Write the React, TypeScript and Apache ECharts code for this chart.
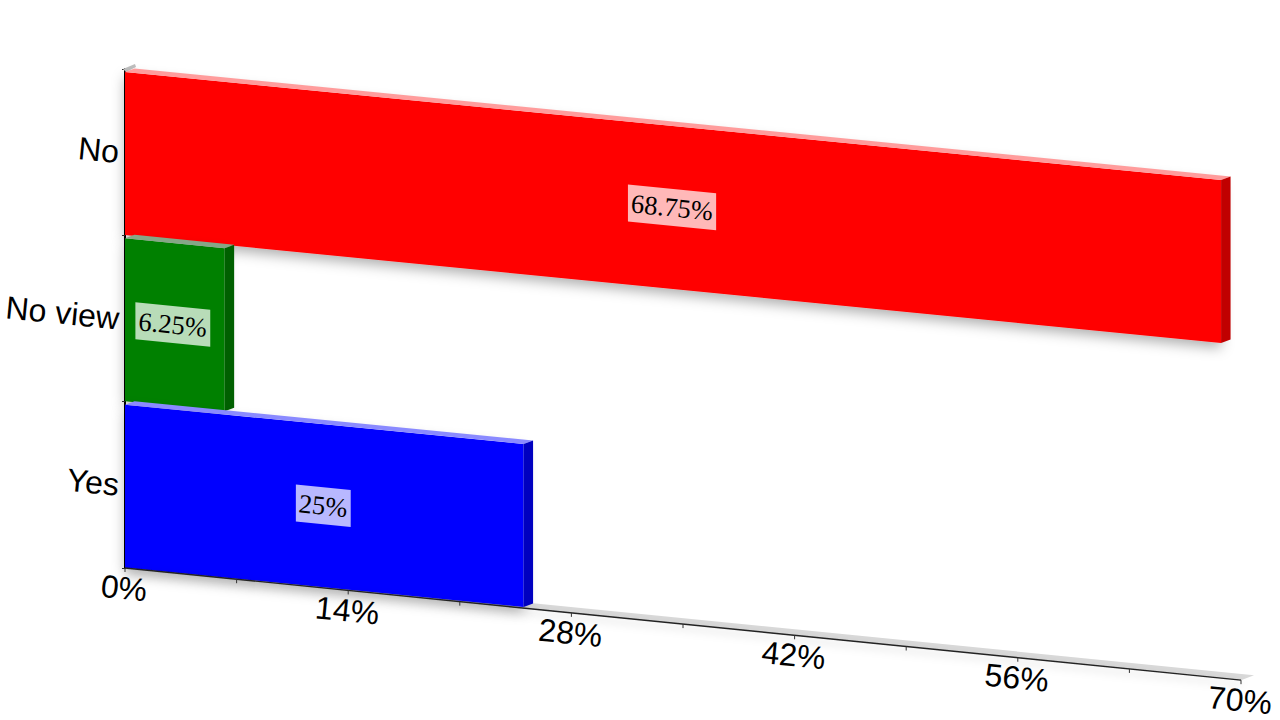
import React, { useEffect, useRef } from "react";
import * as echarts from "echarts";

const categories = ["No", "No view", "Yes"];
const shares = [68.75, 6.25, 25];
const shareLabels = ["68.75%", "6.25%", "25%"];
const barColors = ["#ff0000", "#008000", "#0000ff"];
const topColors = ["#ff9c9c", "#86a686", "#8a8aff"];
const sideColors = ["#c00000", "#006000", "#0000c0"];
const majorTicks = [0, 14, 28, 42, 56, 70];
const minorTicks = [7, 21, 35, 49, 63];
const tickLabels = ["0%", "14%", "28%", "42%", "56%", "70%"];

const BAR_SLOPE = 0.0985;
const AXIS_SLOPE = 0.1005;
const DEPTH_X = 9.5;
const DEPTH_Y = -3.5;

function textWidth(text: string, font: string) {
  const ctx = document.createElement("canvas").getContext("2d")!;
  ctx.font = font;
  return ctx.measureText(text).width;
}

export default function App() {
  const ref = useRef<HTMLDivElement>(null);
  useEffect(() => {
    const chart = echarts.init(ref.current!, undefined, { renderer: "svg" });
    const serif = '26.67px "Liberation Serif"';

    const backdrop = (_: any, api: any) => {
      const o = api.coord([0, 2]);
      const band = api.size([0, 1])[1];
      const left = o[0];
      const bottom = o[1] + band / 2;
      const top = bottom - band * 3;
      const end = api.coord([api.value(0), 0])[0];
      const endY = bottom + (end - left) * AXIS_SLOPE;
      return {
        type: "group",
        children: [
          {
            type: "line",
            shape: { x1: left - 1, y1: top, x2: left - 1, y2: bottom },
            style: { stroke: "#888888", lineWidth: 1, shadowBlur: 7, shadowColor: "rgba(0,0,0,0.4)", shadowOffsetX: -1 },
          },
          {
            type: "polygon",
            shape: { points: [[left, bottom], [end, endY], [end + 13, endY - 5], [left + 10, bottom - 4.5]] },
            style: { fill: "#d9d9d9" },
          },
          {
            type: "polygon",
            shape: { points: [[left - 2, top], [left + 10, top - 5], [left + 11, top - 2], [left + 1, top + 3]] },
            style: { fill: "#bdbdbd" },
          },
        ],
      };
    };

    const renderBar = (params: any, api: any) => {
      const i = params.dataIndex;
      const zero = api.coord([0, i]);
      const tip = api.coord([api.value(0), i]);
      const band = api.size([0, 1])[1];
      const x0 = zero[0];
      const x1 = tip[0];
      const top = zero[1] - band / 2 + 3;
      const h = band - 3.3;
      const skew = (x1 - x0) * BAR_SLOPE;
      const tl = [x0, top];
      const tr = [x1, top + skew];
      const br = [x1, top + skew + h];
      const bl = [x0, top + h];
      const back = (p: number[]) => [p[0] + DEPTH_X, p[1] + DEPTH_Y];
      const cx = (x0 + x1) / 2 - (i === 1 ? 2 : 1);
      const cy = top + h / 2 + (cx - x0) * BAR_SLOPE;
      const text = shareLabels[i];
      const bw = textWidth(text, serif) + 6;
      const bh = 37;
      const dy = (bw / 2) * BAR_SLOPE;
      return {
        type: "group",
        children: [
          {
            type: "polygon",
            shape: { points: [tl, tr, br, bl] },
            style: { fill: barColors[i], shadowBlur: 13, shadowColor: "rgba(0,0,0,0.32)", shadowOffsetY: 5 },
          },
          {
            type: "polygon",
            shape: { points: [tl, tr, back(tr), back(tl)] },
            style: { fill: topColors[i] },
          },
          {
            type: "polygon",
            shape: { points: [tr, back(tr), back(br), br] },
            style: { fill: sideColors[i] },
          },
          {
            type: "polygon",
            shape: {
              points: [
                [cx - bw / 2, cy - bh / 2 - dy],
                [cx + bw / 2, cy - bh / 2 + dy],
                [cx + bw / 2, cy + bh / 2 + dy],
                [cx - bw / 2, cy + bh / 2 - dy],
              ],
            },
            style: { fill: "rgba(255,255,255,0.72)" },
          },
          {
            type: "text",
            x: cx,
            y: cy,
            rotation: -Math.atan(BAR_SLOPE),
            style: {
              text,
              x: 0,
              y: 0,
              align: "center",
              verticalAlign: "middle",
              font: serif,
              fill: "#000000",
            },
          },
        ],
      };
    };

    const axisPoint = (api: any, v: number) => {
      const o = api.coord([0, 2]);
      const band = api.size([0, 1])[1];
      const x = api.coord([v, 2])[0];
      return [x, o[1] + band / 2 + (x - o[0]) * AXIS_SLOPE];
    };

    const renderAxisLine = (_: any, api: any) => {
      const a = axisPoint(api, 0);
      const b = axisPoint(api, api.value(0));
      return {
        type: "line",
        shape: { x1: a[0], y1: a[1], x2: b[0], y2: b[1] },
        style: { stroke: "#222222", lineWidth: 1.4, shadowBlur: 8, shadowColor: "rgba(0,0,0,0.25)", shadowOffsetY: 4 },
      };
    };

    const renderMajor = (params: any, api: any) => {
      const p = axisPoint(api, api.value(0));
      return {
        type: "group",
        children: [
          {
            type: "line",
            shape: { x1: p[0], y1: p[1], x2: p[0], y2: p[1] + 4 },
            style: { stroke: "#333333", lineWidth: 1 },
          },
          {
            type: "text",
            x: p[0] - 1,
            y: p[1] + 20,
            rotation: -Math.atan(AXIS_SLOPE),
            style: {
              text: tickLabels[params.dataIndex],
              x: 0,
              y: 0,
              align: "center",
              verticalAlign: "middle",
              font: '32px "Liberation Sans"',
              fill: "#000000",
            },
          },
        ],
      };
    };

    const renderMinor = (_: any, api: any) => {
      const p = axisPoint(api, api.value(0));
      return {
        type: "line",
        shape: { x1: p[0], y1: p[1], x2: p[0], y2: p[1] + 4 },
        style: { stroke: "#333333", lineWidth: 1 },
      };
    };

    chart.setOption({
      animation: false,
      backgroundColor: "#ffffff",
      grid: { left: 125, top: 69, width: 1116, height: 499 },
      xAxis: { type: "value", min: 0, max: 70, interval: 14, show: false },
      yAxis: {
        type: "category",
        inverse: true,
        data: categories,
        offset: 1,
        axisLine: { show: true, lineStyle: { color: "#000000", width: 2 } },
        axisTick: { show: true, length: 3, lineStyle: { color: "#333333" } },
        axisLabel: {
          fontFamily: "Liberation Sans",
          fontSize: 32,
          color: "#000000",
          margin: 5,
          rotate: -5.7,
          align: "right",
          padding: [0, 0, 0, 0],
        },
      },
      series: [
        { type: "custom", renderItem: backdrop, clip: false, silent: true, z: 1, encode: { x: 0 }, data: [[70]] },
        {
          type: "custom",
          renderItem: renderBar,
          clip: false,
          silent: true,
          z: 2,
          encode: { x: 0, y: 1 },
          data: shares.map((v, i) => [v, categories[i]]),
        },
        { type: "custom", renderItem: renderAxisLine, clip: false, silent: true, z: 3, encode: { x: 0 }, data: [[70]] },
        { type: "custom", renderItem: renderMinor, clip: false, silent: true, z: 3, encode: { x: 0 }, data: minorTicks.map((v) => [v]) },
        { type: "custom", renderItem: renderMajor, clip: false, silent: true, z: 3, encode: { x: 0 }, data: majorTicks.map((v) => [v]) },
      ],
    });
    return () => chart.dispose();
  }, []);
  return <div ref={ref} style={{ position: "fixed", left: 0, top: 0, width: 1280, height: 720 }} />;
}
